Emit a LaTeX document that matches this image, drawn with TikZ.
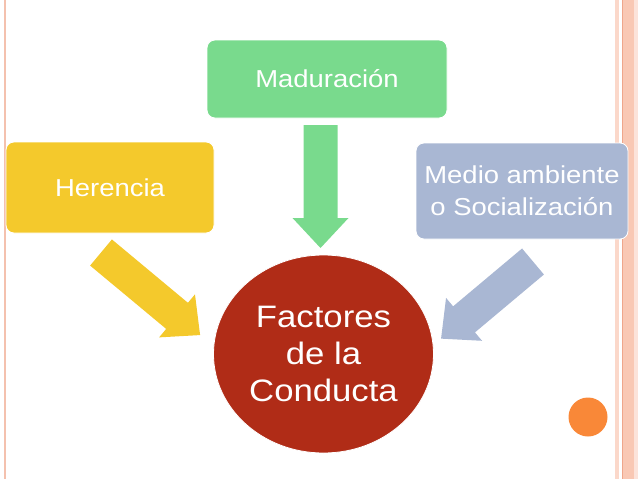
\documentclass[tikz,border=0pt]{standalone}
\usepackage{fontspec}
\setmainfont{Liberation Sans}[FakeStretch=1.12]
\usepackage{xcolor}
\usetikzlibrary{shapes.geometric,calc}

\definecolor{herYellow}{HTML}{F4C92C}
\definecolor{madGreen}{HTML}{79DA8D}
\definecolor{medBlue}{HTML}{A9B7D3}
\definecolor{factRed}{HTML}{B02C17}
\definecolor{dotOrange}{HTML}{F98838}
\definecolor{borderPeach}{HTML}{F9C8B4}
\definecolor{borderLine}{HTML}{EFA68B}

% block arrow: tail, angle, length, colour
\newcommand{\blockarrow}[4]{%
  \begin{scope}[shift={(#1)}, rotate=#2]
    \fill[#4] (0,-17) -- ({#3-30},-17) -- ({#3-30},-28) -- (#3,0)
      -- ({#3-30},28) -- ({#3-30},17) -- (0,17) -- cycle;
  \end{scope}}

\begin{document}
\begin{tikzpicture}[
  x=1pt, y=-1pt,
  box/.style={draw=white, line width=0.8pt, rounded corners=8pt, inner sep=0pt,
    text=white, font=\fontsize{24.5}{32}\selectfont, align=center},
  factor/.style={ellipse, draw=white, line width=0.8pt, fill=factRed, inner sep=0pt,
    text=white, font=\fontsize{31}{37}\selectfont, align=center},
]
\useasboundingbox (0,0) rectangle (638,479);

% Slide border
\draw[borderLine!70, line width=1.5pt] (5,0) -- (5,479);
\fill[borderPeach!70] (615,0) rectangle (619,479);
\fill[borderPeach] (623,0) rectangle (634,479);
\draw[borderLine, line width=1.5pt] (622.5,0) -- (622.5,479);
\fill[borderPeach!50] (634,0) rectangle (638,479);

% Factors
\node[box, fill=herYellow, minimum width=208pt, minimum height=91pt] (herencia)
  at (110,187.5) {Herencia};
\node[box, fill=madGreen, minimum width=240pt, minimum height=78pt] (maduracion)
  at (327,79) {Maduración};
\node[box, fill=medBlue, minimum width=212pt, minimum height=96pt] (medio)
  at (522,191) {Medio ambiente\\o Socialización};

% Centre
\node[factor, minimum width=220pt, minimum height=198pt] (conducta)
  at (323.5,354) {Factores\\de la\\Conducta};

% Arrows
\coordinate (herTail) at (101,252.5);
\coordinate (madTail) at (320.5,125);
\coordinate (medTail) at (533,261.5);
\blockarrow{herTail}{-39.8}{129}{herYellow}
\blockarrow{madTail}{-90}{123}{madGreen}
\blockarrow{medTail}{-140}{120}{medBlue}

% Corner dot
\node[circle, fill=dotOrange, minimum size=39pt, inner sep=0pt] (dot) at (588,417) {};

\end{tikzpicture}
\end{document}
